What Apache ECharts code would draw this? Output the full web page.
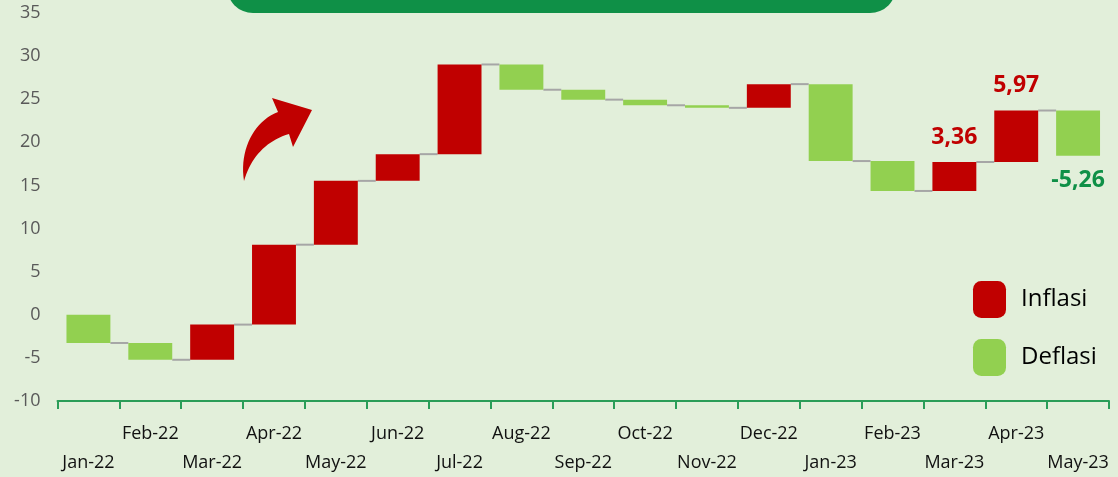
<!DOCTYPE html>
<html>
<head>
<meta charset="utf-8">
<script src="https://cdn.jsdelivr.net/npm/echarts@6/dist/echarts.min.js"></script>
<style>
html,body{margin:0;padding:0;background:#e2efda;}
#c{width:1118px;height:477px;}
</style>
</head>
<body>
<div id="c"></div>
<script>
// Categories (months)
const categories = ['Jan-22','Feb-22','Mar-22','Apr-22','May-22','Jun-22','Jul-22','Aug-22','Sep-22','Oct-22','Nov-22','Dec-22','Jan-23','Feb-23','Mar-23','Apr-23','May-23'];
// Monthly change (waterfall steps)
const changes = [-3.27,-1.95,4.08,9.27,7.40,3.10,10.40,-2.93,-1.15,-0.65,-0.30,2.75,-8.92,-3.47,3.36,5.97,-5.26];
// Months whose change is written on the chart
const labelled = ['Mar-23','Apr-23','May-23'];
// Y axis ticks
const yMin = -10, yMax = 35, yStep = 5;
const seriesNames = ['Inflasi','Deflasi'];

const RED = '#c00000', GREEN = '#92d050', DARKGREEN = '#0f9047';
const FONT = '"Open Sans", sans-serif';

// build waterfall start/end
const starts = [], ends = [];
let acc = 0;
changes.forEach(d => { starts.push(acc); acc = +(acc + d).toFixed(4); ends.push(acc); });

const incData = [], decData = [], connData = [];
changes.forEach((d, i) => {
  const item = [i, starts[i], ends[i], d];
  if (d >= 0) incData.push(item); else decData.push(item);
  if (i < changes.length - 1) connData.push([i, ends[i]]);
});

// decorative curved arrow outline (pixel geometry)
function bez(p0, p1, p2, p3, n) {
  const out = [];
  for (let k = 0; k <= n; k++) {
    const t = k / n, u = 1 - t;
    out.push([
      u*u*u*p0[0] + 3*u*u*t*p1[0] + 3*u*t*t*p2[0] + t*t*t*p3[0],
      u*u*u*p0[1] + 3*u*u*t*p1[1] + 3*u*t*t*p2[1] + t*t*t*p3[1]
    ]);
  }
  return out;
}
const arrowPts = [].concat(
  bez([244,181],[239,150],[254,121],[278,112],20),
  [[272,98],[312,110],[293,147]],
  bez([289,134],[266,141],[251,157],[244,181],20)
);

const BAR_RATIO = 0.71;
function barRender(color) {
  return function (params, api) {
    const idx = api.value(0);
    const s = api.value(1), e = api.value(2), d = api.value(3);
    const cx = api.coord([idx, 0])[0];
    const bw = api.size([1, 0])[0] * BAR_RATIO;
    const y1 = api.coord([idx, s])[1], y2 = api.coord([idx, e])[1];
    const top = Math.min(y1, y2), h = Math.abs(y1 - y2);
    const children = [{
      type: 'rect',
      shape: { x: cx - bw / 2, y: top, width: bw, height: Math.max(h, 1) },
      style: { fill: color }
    }];
    if (labelled.indexOf(categories[idx]) >= 0) {
      const txt = d.toFixed(2).replace('.', ',');
      children.push({
        type: 'text',
        style: {
          text: txt, x: cx, y: d >= 0 ? top - 25 : top + h + 25,
          align: 'center', verticalAlign: 'middle',
          fill: d >= 0 ? RED : DARKGREEN,
          font: 'bold 23px ' + FONT
        }
      });
    }
    return { type: 'group', children: children };
  };
}

const chart = echarts.init(document.getElementById('c'), null, { renderer: 'canvas' });
chart.setOption({
  backgroundColor: '#e2efda',
  animation: false,
  grid: { left: 57.5, right: 9, top: 13, bottom: 76, containLabel: false },
  legend: {
    data: seriesNames,
    orient: 'vertical', left: 973, top: 281,
    padding: 0, itemWidth: 33, itemHeight: 37, itemGap: 21,
    icon: 'roundRect',
    textStyle: { fontFamily: FONT, fontSize: 24, color: '#000', padding: [0, 0, 0, 10] }
  },
  xAxis: {
    type: 'category', data: categories, boundaryGap: true,
    axisLine: { show: true, onZero: false, lineStyle: { color: '#2a9d58', width: 2 } },
    axisTick: { show: true, length: 8, lineStyle: { color: '#2a9d58', width: 2 } },
    axisLabel: {
      interval: 0, margin: 18, fontFamily: FONT, fontSize: 18, color: '#111', lineHeight: 29,
      formatter: (v, i) => (i % 2 === 1 ? v : '\n' + v)
    },
    splitLine: { show: false }
  },
  yAxis: {
    type: 'value', min: yMin, max: yMax, interval: yStep,
    axisLine: { show: false }, axisTick: { show: false }, splitLine: { show: false },
    axisLabel: { margin: 17, fontFamily: FONT, fontSize: 18, color: '#595959' }
  },
  graphic: [
    { type: 'rect', shape: { x: 227, y: -45, width: 669, height: 58, r: 26 }, style: { fill: DARKGREEN }, z: 10 },
    { type: 'polygon', shape: { points: arrowPts }, style: { fill: RED }, z: 10 }
  ],
  series: [
    {
      name: 'connector', type: 'custom', data: connData, silent: true, z: 1,
      renderItem: function (params, api) {
        const idx = api.value(0), v = api.value(1);
        const bw = api.size([1, 0])[0] * BAR_RATIO;
        const p1 = api.coord([idx, v]), p2 = api.coord([idx + 1, v]);
        return { type: 'line', shape: { x1: p1[0] + bw / 2, y1: p1[1], x2: p2[0] - bw / 2, y2: p2[1] }, style: { stroke: '#a6a6a6', lineWidth: 2 } };
      }
    },
    { name: seriesNames[0], type: 'custom', data: incData, itemStyle: { color: RED }, renderItem: barRender(RED), z: 2 },
    { name: seriesNames[1], type: 'custom', data: decData, itemStyle: { color: GREEN }, renderItem: barRender(GREEN), z: 2 }
  ]
});
</script>
</body>
</html>
